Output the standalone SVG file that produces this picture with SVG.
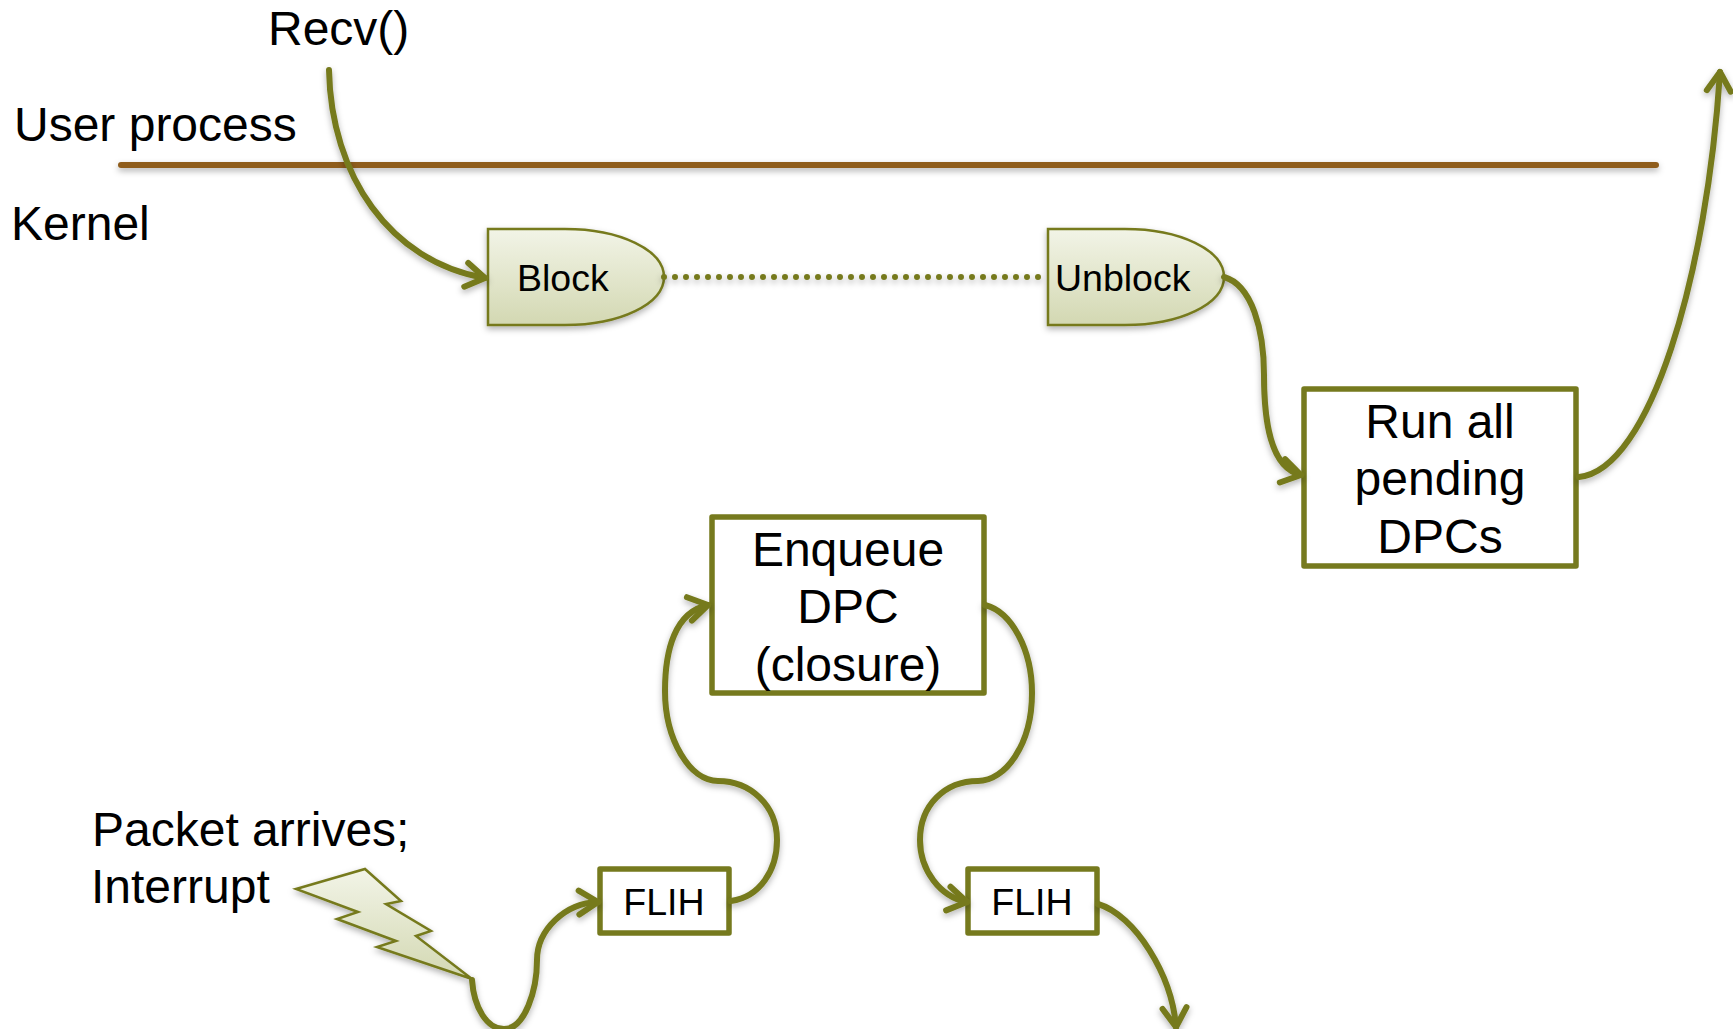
<svg xmlns="http://www.w3.org/2000/svg" width="1733" height="1029" viewBox="0 0 1733 1029">
<defs>
<linearGradient id="g" x1="0" y1="0" x2="0" y2="1"><stop offset="0" stop-color="#f2f4e7"/><stop offset="1" stop-color="#d3d8b2"/></linearGradient>
<filter id="s" filterUnits="userSpaceOnUse" x="0" y="0" width="1733" height="1029"><feDropShadow dx="0" dy="3" stdDeviation="3" flood-color="#000" flood-opacity=".3"/></filter>
<marker id="a" markerUnits="userSpaceOnUse" markerWidth="34" markerHeight="34" refX="22" refY="14" orient="auto" overflow="visible"><path d="M3 2L22 14L3 26" fill="none" stroke="#767a1e" stroke-width="6" stroke-linecap="round" stroke-linejoin="round"/></marker>
</defs>
<style>
text{font-family:"Liberation Sans",Arial,sans-serif;font-size:48px;fill:#000}
.m{text-anchor:middle}
.sm{font-size:37.5px}
.c{fill:none;stroke:#767a1e;stroke-width:6;stroke-linecap:round;filter:url(#s)}
.e{marker-end:url(#a)}
.b{fill:#fff;stroke:#767a1e;stroke-width:5.5;stroke-linejoin:round}
.o{fill:url(#g);stroke:#767a1e;stroke-width:2.5;filter:url(#s)}
</style>
<g id="labels">
<text x="268" y="45">Recv()</text>
<text x="14" y="141">User process</text>
<text x="11" y="240">Kernel</text>
<text x="92" y="846">Packet arrives;</text>
<text x="91" y="903">Interrupt</text>
</g>
<g id="block">
<path class="o" d="M488 229H565C620 229 664 250 664 277C664 304 620 325 565 325H488Z"/>
<text class="sm" x="517" y="291">Block</text>
</g>
<g id="unblock">
<path class="o" d="M1048 229H1125C1180 229 1224 250 1224 277C1224 304 1180 325 1125 325H1048Z"/>
<text class="sm" x="1055" y="291">Unblock</text>
</g>
<g id="run">
<rect class="b" x="1304" y="389" width="272" height="177"/>
<text class="m" x="1440" y="438">Run all</text>
<text class="m" x="1440" y="495">pending</text>
<text class="m" x="1440" y="553">DPCs</text>
</g>
<g id="enqueue">
<rect class="b" x="712" y="517" width="272" height="176"/>
<text class="m" x="848" y="566">Enqueue</text>
<text class="m" x="848" y="623">DPC</text>
<text class="m" x="848" y="681">(closure)</text>
</g>
<g id="flih1">
<rect class="b" x="600" y="869" width="129" height="64"/>
<text class="m sm" x="664" y="915">FLIH</text>
</g>
<g id="flih2">
<rect class="b" x="968" y="869" width="129" height="64"/>
<text class="m sm" x="1032" y="915">FLIH</text>
</g>
<g id="bolt">
<path class="o" d="M296 889L365 869L401 901L386 904L431 931L416 936L472 979L377 947L396 941L337 919L358 912Z"/>
</g>
<g id="connectors">
<path class="c" d="M121 165H1656" style="stroke:#8f5d1f"/>
<path class="c e" d="M329 70C331 175 390 262 485 278"/>
<path class="c" d="M664 277H1048" stroke-dasharray="0 11"/>
<path class="c e" d="M1224 277C1252 285 1264 330 1264 375C1264 420 1270 468 1301 475"/>
<path class="c e" d="M1579 477C1650 470 1707 275 1720 72"/>
<path class="c e" d="M731 901C760 897 777 870 777 840C777 805 750 781 718 781C690 781 665 740 665 691C665 650 675 612 708 605"/>
<path class="c e" d="M985 605C1012 612 1032 650 1032 693C1032 745 1005 781 978 781C945 781 920 805 920 840C920 870 940 897 967 902"/>
<path class="c e" d="M1098 904C1135 915 1172 975 1176 1027"/>
<path class="c e" d="M472 980C474 1008 487 1029 504 1029C525 1029 537 990 537 960C537 930 565 903 598 902"/>
</g>
</svg>
